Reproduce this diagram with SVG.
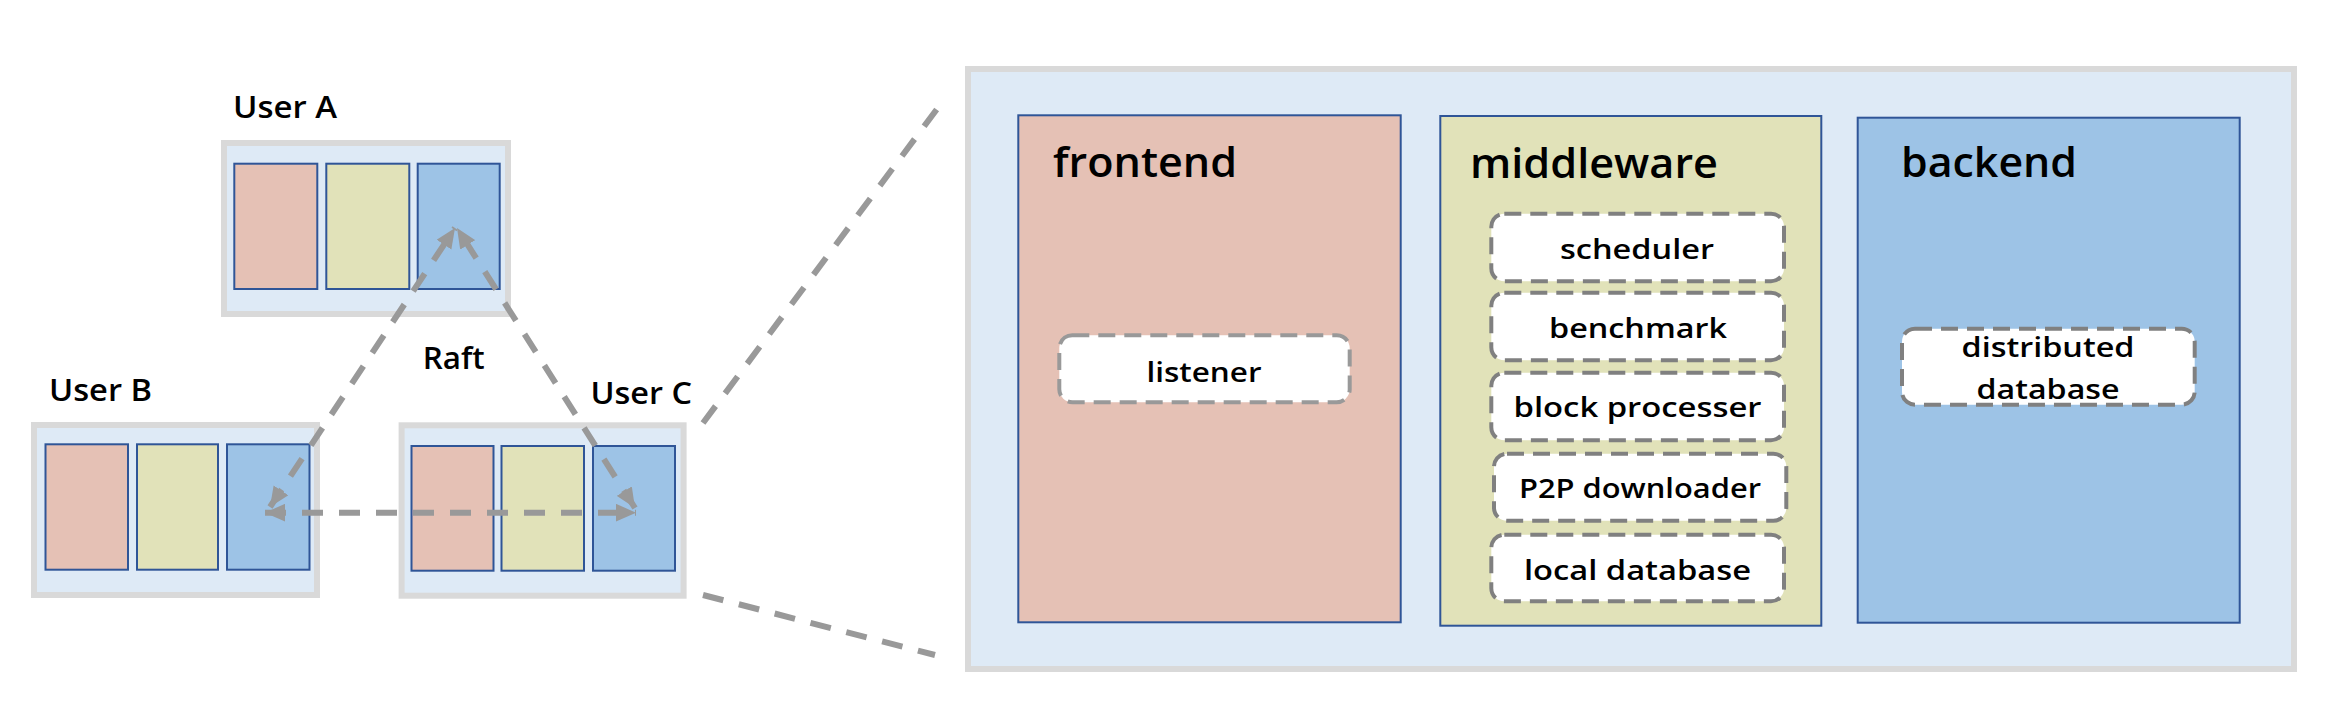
<svg xmlns="http://www.w3.org/2000/svg" width="2327" height="701" viewBox="0 0 2327 701">
<style>
text{font-family:"Open Sans","Noto Sans","Liberation Sans",sans-serif;font-weight:600;fill:#000}
.user{fill:#deeaf6;stroke:#d9d9d9;stroke-width:6}
.panel{fill:#deeaf6;stroke:#d9d9d9;stroke-width:6}
.pk{fill:#e5c1b5;stroke:#2f5597;stroke-width:2}
.yl{fill:#e1e2b9;stroke:#2f5597;stroke-width:2}
.bl{fill:#9dc3e6;stroke:#2f5597;stroke-width:2}
.mod{fill:#fff;stroke:#808080;stroke-width:4;stroke-dasharray:17 9}
.mod2{fill:#fff;stroke:#999;stroke-width:4;stroke-dasharray:17 9}
.ulab{font-size:31px}
.big{font-size:42px}
.sm{font-size:27px;text-anchor:middle}
.conn{fill:none;stroke:#999;stroke-width:6;stroke-dasharray:21 16}
</style>
<defs>
<marker id="ah" markerUnits="userSpaceOnUse" markerWidth="20" markerHeight="18" viewBox="0 0 18 16" refX="18" refY="8" orient="auto-start-reverse">
<path d="M0,0 L18,8 L0,16 z" fill="#999"/>
</marker>
</defs>

<g id="panel">
<rect class="panel" x="968" y="69" width="1326" height="600"/>
</g>

<g id="userA">
<rect class="user" x="224" y="143" width="284" height="171"/>
<rect class="pk" x="234.3" y="163.7" width="83" height="125.3"/>
<rect class="yl" x="326.3" y="163.7" width="83" height="125.3"/>
<rect class="bl" x="417.7" y="163.7" width="82" height="125.3"/>
<text class="ulab" x="233" y="118" textLength="104" lengthAdjust="spacingAndGlyphs">User A</text>
</g>

<g id="userB">
<rect class="user" x="34" y="425" width="283" height="170"/>
<rect class="pk" x="45.5" y="444.3" width="82.5" height="125.4"/>
<rect class="yl" x="137" y="444.3" width="81" height="125.4"/>
<rect class="bl" x="227" y="444.3" width="82.5" height="125.4"/>
<text class="ulab" x="49" y="400.7" textLength="103" lengthAdjust="spacingAndGlyphs">User B</text>
</g>

<g id="userC">
<rect class="user" x="401.6" y="425.3" width="282" height="170.4"/>
<rect class="pk" x="411.5" y="446" width="82" height="124.7"/>
<rect class="yl" x="501.5" y="446" width="82.5" height="124.7"/>
<rect class="bl" x="593" y="446" width="82" height="124.7"/>
<text class="ulab" x="590.5" y="404" textLength="101.5" lengthAdjust="spacingAndGlyphs">User C</text>
</g>

<g id="raft-label">
<text class="ulab" x="422.7" y="369" textLength="62" lengthAdjust="spacingAndGlyphs">Raft</text>
</g>

<g id="frontend">
<rect class="pk" x="1018.3" y="115.3" width="382.4" height="507"/>
<text class="big" x="1053" y="177.3" textLength="184" lengthAdjust="spacingAndGlyphs">frontend</text>
</g>
<g id="listener">
<rect class="mod2" x="1059.3" y="335.3" width="290.4" height="67" rx="13"/>
<text class="sm" x="1204" y="381.7" textLength="115" lengthAdjust="spacingAndGlyphs">listener</text>
</g>

<g id="middleware">
<rect class="yl" x="1440.3" y="116" width="381" height="509.7"/>
<text class="big" x="1470" y="177.7" textLength="248" lengthAdjust="spacingAndGlyphs">middleware</text>
</g>
<g id="scheduler">
<rect class="mod" x="1491.3" y="213.7" width="292.7" height="67.6" rx="13"/>
<text class="sm" x="1637" y="259.3" textLength="154" lengthAdjust="spacingAndGlyphs">scheduler</text>
</g>
<g id="benchmark">
<rect class="mod" x="1491.3" y="292.7" width="292.7" height="67.6" rx="13"/>
<text class="sm" x="1638" y="338.3" textLength="178" lengthAdjust="spacingAndGlyphs">benchmark</text>
</g>
<g id="block-processer">
<rect class="mod" x="1491.3" y="372.7" width="292.7" height="67.6" rx="13"/>
<text class="sm" x="1637.5" y="417.3" textLength="248" lengthAdjust="spacingAndGlyphs">block processer</text>
</g>
<g id="p2p-downloader">
<rect class="mod" x="1494" y="453.7" width="292.3" height="67" rx="13"/>
<text class="sm" x="1640" y="498.3" textLength="242" lengthAdjust="spacingAndGlyphs">P2P downloader</text>
</g>
<g id="local-database">
<rect class="mod" x="1491.3" y="534.7" width="292.7" height="66.6" rx="13"/>
<text class="sm" x="1637.5" y="580" textLength="227" lengthAdjust="spacingAndGlyphs">local database</text>
</g>

<g id="backend">
<rect class="bl" x="1857.7" y="117.7" width="382" height="505"/>
<text class="big" x="1901" y="176.7" textLength="176" lengthAdjust="spacingAndGlyphs">backend</text>
</g>
<g id="distributed-database">
<rect class="mod" x="1902" y="328.7" width="292.7" height="76" rx="13"/>
<text class="sm" x="2048" y="356.7" textLength="173" lengthAdjust="spacingAndGlyphs">distributed</text>
<text class="sm" x="2048" y="399" textLength="143" lengthAdjust="spacingAndGlyphs">database</text>
</g>

<g id="connectors">
<path class="conn" d="M270,507 L455,228" marker-start="url(#ah)" marker-end="url(#ah)"/>
<path class="conn" d="M635,508 L457,228" marker-start="url(#ah)" marker-end="url(#ah)"/>
<path class="conn" d="M265,512.7 L636,512.7" marker-start="url(#ah)" marker-end="url(#ah)"/>
<path class="conn" d="M703,423 L940,105"/>
<path class="conn" d="M703,595 L935,655"/>
</g>
</svg>
